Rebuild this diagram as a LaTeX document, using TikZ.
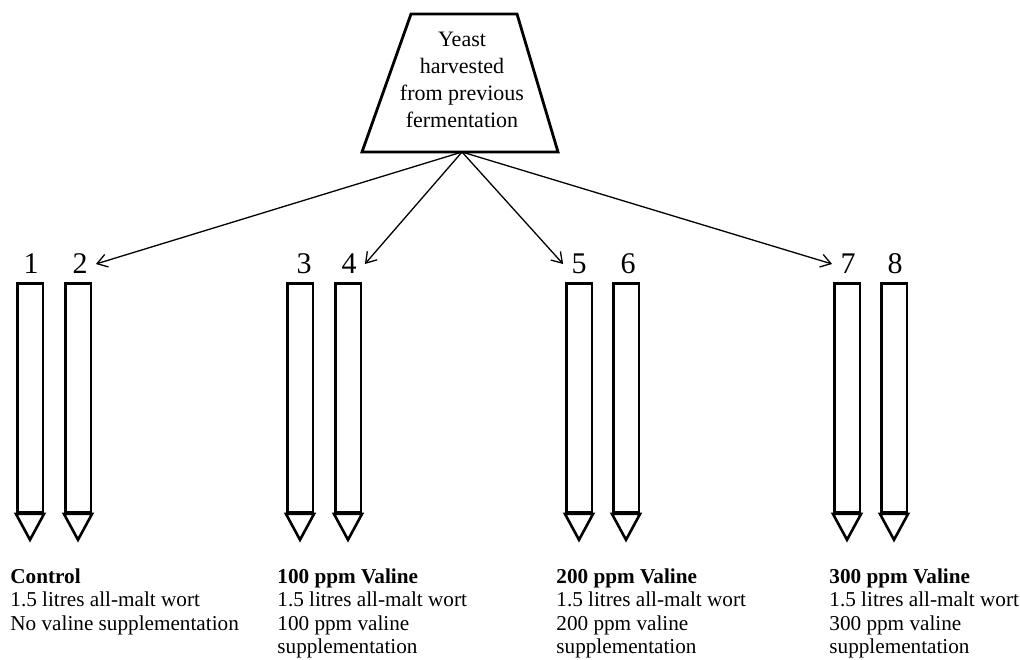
\documentclass[tikz,border=0pt]{standalone}
\usepackage{fontspec}
\setmainfont{Liberation Serif}
\usetikzlibrary{arrows.meta}

\begin{document}
\begin{tikzpicture}[x=0.5pt,y=-0.5pt,
            tube/.style={draw, line width=1.3pt, minimum width=12.8pt,
                         minimum height=114.5pt, inner sep=0pt},
            nib/.style={draw, line width=1.3pt, line join=miter},
            num/.style={font=\fontsize{15}{15}\selectfont, inner sep=4pt},
            lbl/.style={anchor=north west, align=left, inner sep=0pt,
                        font=\fontsize{10.6}{11.75}\selectfont},
            feed/.style={-{Straight Barb[length=5pt,width=6.5pt]}, line width=0.65pt}]
        \useasboundingbox (0,0) rectangle (1020,659);
        % harvested yeast
        \draw[line width=1.4pt, line join=miter] (411,14) -- (517,14) -- (558,152) -- (362,152) -- cycle;
        \node[align=center, inner sep=0pt, font=\fontsize{11}{13.5}\selectfont]
              (yeast) at (462,80) {Yeast\\harvested\\from previous\\fermentation};
        \coordinate (base) at (462,152);
        % fermenters
        \node[tube] (t1) at (30,398)  {};
        \node[tube] (t2) at (78,398)  {};
        \node[tube] (t3) at (300,398) {};
        \node[tube] (t4) at (348,398) {};
        \node[tube] (t5) at (579,398) {};
        \node[tube] (t6) at (626,398) {};
        \node[tube] (t7) at (847,398) {};
        \node[tube] (t8) at (894,398) {};
        \draw[nib] (t1.south west) -- (t1.south east) -- ([yshift=-13pt]t1.south) -- cycle;
        \draw[nib] (t2.south west) -- (t2.south east) -- ([yshift=-13pt]t2.south) -- cycle;
        \draw[nib] (t3.south west) -- (t3.south east) -- ([yshift=-13pt]t3.south) -- cycle;
        \draw[nib] (t4.south west) -- (t4.south east) -- ([yshift=-13pt]t4.south) -- cycle;
        \draw[nib] (t5.south west) -- (t5.south east) -- ([yshift=-13pt]t5.south) -- cycle;
        \draw[nib] (t6.south west) -- (t6.south east) -- ([yshift=-13pt]t6.south) -- cycle;
        \draw[nib] (t7.south west) -- (t7.south east) -- ([yshift=-13pt]t7.south) -- cycle;
        \draw[nib] (t8.south west) -- (t8.south east) -- ([yshift=-13pt]t8.south) -- cycle;
        \node[num] (n1) at (31,264)  {1};
        \node[num] (n2) at (80,264)  {2};
        \node[num] (n3) at (304,264) {3};
        \node[num] (n4) at (349,264) {4};
        \node[num] (n5) at (579,264) {5};
        \node[num] (n6) at (628,264) {6};
        \node[num] (n7) at (848,264) {7};
        \node[num] (n8) at (895,264) {8};
        \draw[feed] (base) -- (n2.east);
        \draw[feed] (base) -- (n4.east);
        \draw[feed] (base) -- (n5.west);
        \draw[feed] (base) -- (n7.west);
        % treatments
        \node[lbl] (c1) at (10,568)  {\textbf{Control}\\1.5 litres all-malt wort\\No valine supplementation};
        \node[lbl] (c2) at (277,568) {\textbf{100 ppm Valine}\\1.5 litres all-malt wort\\100 ppm valine\\supplementation};
        \node[lbl] (c3) at (556,568) {\textbf{200 ppm Valine}\\1.5 litres all-malt wort\\200 ppm valine\\supplementation};
        \node[lbl] (c4) at (829,568) {\textbf{300 ppm Valine}\\1.5 litres all-malt wort\\300 ppm valine\\supplementation};
      \end{tikzpicture}
\end{document}
